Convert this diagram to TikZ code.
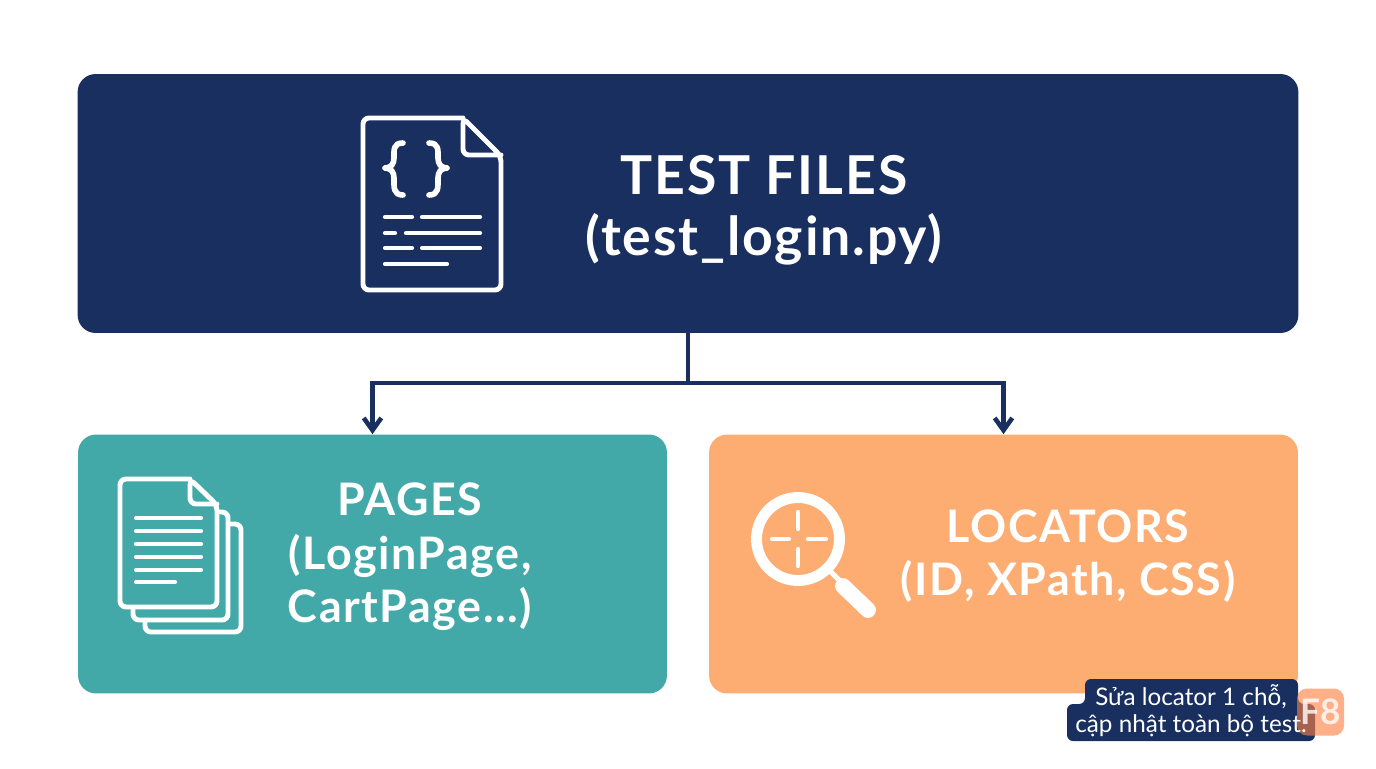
\documentclass[tikz,border=0pt]{standalone}
\usepackage{fontspec}
\setmainfont{Lato}
\newfontfamily\headfont{Lato}[LetterSpace=3.5]
\usepackage{tikz}
\usetikzlibrary{arrows.meta, positioning}
\definecolor{mainnavy}{HTML}{192F60}
\definecolor{mainteal}{HTML}{43A9A8}
\definecolor{mainorange}{HTML}{FDAC72}
\definecolor{badgeorange}{HTML}{FF8040}

\begin{document}
\begin{tikzpicture}[
  x=0.02cm, y=-0.02cm,
  box/.style={rectangle, rounded corners=0.36cm, inner sep=0pt, minimum height=5.18cm},
  title/.style={text=white, align=center, font=\headfont\bfseries\fontsize{30.5}{34.5}\selectfont},
  subtitle/.style={text=white, align=center, font=\headfont\bfseries\fontsize{25.5}{30.5}\selectfont},
  icon/.style={draw=white, line width=2.8pt, line join=round, line cap=round, rounded corners=0.12cm},
  textline/.style={draw=white, line width=2.4pt, line cap=round},
  arrow/.style={-{Straight Barb[length=7pt, width=10pt, line width=2.6pt]}, draw=mainnavy, line width=2.6pt}
]
  \useasboundingbox (0,0) rectangle (1376,768);
  \node[box, fill=mainnavy, minimum width=24.42cm] (tests) at (688,203.5) {};
  \node[box, fill=mainteal, minimum width=11.78cm] (pages) at (372.5,564) {};
  \node[box, fill=mainorange, minimum width=11.78cm] (locators) at (1003.5,564) {};
  \coordinate (split) at (688,383);

  \draw[draw=mainnavy, line width=2.6pt] (tests.south) -- (split);
  \draw[arrow] (split) -| (pages.north);
  \draw[arrow] (split) -| (locators.north);

  \node[title] (teststext) at (764,210) {TEST FILES\\(test\_login.py)};
  \node[subtitle] (pagestext) at (410,557) {PAGES\\(LoginPage,\\CartPage...)};
  \node[subtitle] (locatorstext) at (1068,556) {LOCATORS\\(ID, XPath, CSS)};

  % file icon
  \draw[icon] (463,118) -- (374,118) -- (363,118) -- (363,290) -- (501,290) -- (501,156) -- (463,118) -- (463,155) -- (501,155);
  \draw[icon, line width=3.2pt, rounded corners=0pt] (403,143) .. controls (393,143) and (394,150) .. (394,158)
    .. controls (394,164) and (391,168) .. (385,168) .. controls (391,168) and (394,172) .. (394,178)
    .. controls (394,187) and (393,195) .. (403,195);
  \draw[icon, line width=3.2pt, rounded corners=0pt] (429,143) .. controls (439,143) and (438,150) .. (438,158)
    .. controls (438,164) and (441,168) .. (447,168) .. controls (441,168) and (438,172) .. (438,178)
    .. controls (438,187) and (439,195) .. (429,195);
  \draw[textline] (385,217) -- (412,217) (422,217) -- (480,217);
  \draw[textline] (385,233) -- (395,233) (406,233) -- (480,233);
  \draw[textline] (385,248) -- (412,248) (422,248) -- (480,248);
  \draw[textline] (385,264) -- (447,264);

  % pages icon
  \draw[icon] (190,479) -- (120,479) -- (120,607) -- (217,607) -- (217,505) -- (190,479) -- (190,504) -- (217,504);
  \draw[icon] (218,512) -- (228,512) -- (228,620) -- (133,620) -- (133,608);
  \draw[icon] (229,524) -- (241,524) -- (241,632) -- (145,632) -- (145,621);
  \foreach \y in {518,531,544,557,570}
    \draw[textline] (136,\y) -- (201,\y);
  \draw[textline] (136,582) -- (175,582);

  % magnifier icon
  \draw[draw=white, line width=6.2pt] (798,539) circle (41.5);
  \draw[textline] (798,512) -- (798,529) (798,549) -- (798,566) (772,539) -- (789,539) (808,539) -- (826,539);
  \draw[draw=white, line width=3pt] (829,570) -- (845,586);
  \draw[draw=white, line width=9pt, line cap=round] (843,586) -- (868,610);

  % note
  \fill[mainnavy, rounded corners=0.12cm] (1085,679) -- (1298,679) -- (1298,704) -- (1315,704) -- (1315,741) -- (1067,741) -- (1067,704) -- (1085,704) -- cycle;
  \node[fill=badgeorange, fill opacity=0.62, text opacity=0.8, text=white, rounded corners=0.2cm, minimum size=0.94cm, inner sep=0pt, font=\bfseries\fontsize{20}{24}\selectfont] (badge) at (1320.5,712) {F8};
  \node[text=white, align=center, font=\fontsize{13.8}{15.3}\selectfont] (note) at (1191,711) {Sửa locator 1 chỗ,\\cập nhật toàn bộ test.};
\end{tikzpicture}
\end{document}
